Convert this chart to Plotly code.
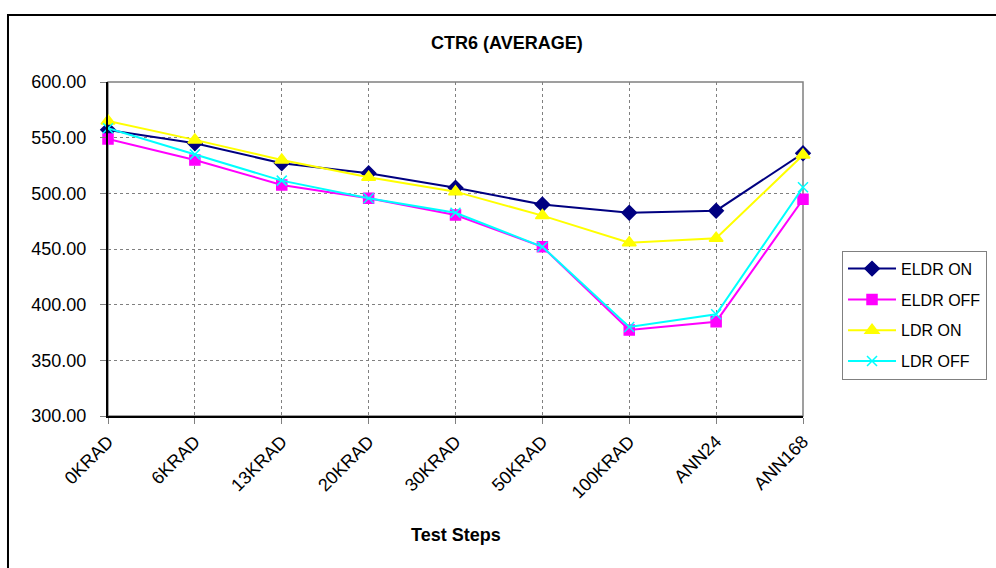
import plotly.graph_objects as go

# Test steps along the x axis
steps = ["0KRAD", "6KRAD", "13KRAD", "20KRAD", "30KRAD", "50KRAD", "100KRAD", "ANN24", "ANN168"]

# Average CTR6 per test step for each bias / dose-rate condition
eldr_on = [557.0, 545.0, 527.0, 518.0, 505.0, 490.0, 482.6, 484.4, 536.0]
eldr_off = [548.8, 530.0, 507.5, 495.5, 480.5, 452.0, 377.2, 384.7, 494.6]
ldr_on = [565.0, 548.0, 530.0, 514.4, 501.5, 480.0, 455.7, 459.6, 534.4]
ldr_off = [558.4, 535.0, 511.4, 495.5, 482.6, 452.0, 380.0, 391.4, 505.4]

y_ticks = [300, 350, 400, 450, 500, 550, 600]

FONT = "Liberation Sans, Arial, sans-serif"

series = [
    ("ELDR ON", eldr_on, "#000080", "diamond", 11),
    ("ELDR OFF", eldr_off, "#FF00FF", "square", 10),
    ("LDR ON", ldr_on, "#FFFF00", "triangle-up", 12),
    ("LDR OFF", ldr_off, "#00FFFF", "x-thin-open", 10),
]

fig = go.Figure()
for name, vals, color, symbol, size in series:
    fig.add_trace(
        go.Scatter(
            x=steps,
            y=vals,
            name=name,
            legendgroup=name,
            mode="lines+markers",
            line=dict(color=color, width=2),
            marker=dict(symbol=symbol, size=size, color=color,
                        line=dict(color=color, width=1.5)),
            cliponaxis=False,
        )
    )

# Chart frame, plot-area border, titles
fig.update_layout(
    width=996,
    height=568,
    margin=dict(l=108, r=193, t=82, b=152, autoexpand=False),
    paper_bgcolor="white",
    plot_bgcolor="white",
    font=dict(family=FONT, color="black"),
    showlegend=True,
    legend=dict(
        xref="container", yref="container",
        x=0.8454, y=0.5586, xanchor="left", yanchor="top",
        font=dict(size=16, family=FONT, color="black"),
        bordercolor="#808080", borderwidth=1,
        bgcolor="white",
        tracegroupgap=7,
        traceorder="grouped",
        itemwidth=48,
    ),
    shapes=[
        dict(type="rect", xref="paper", yref="paper",
             x0=-0.1439, x1=2.0, y0=-1.0, y1=1.2006,
             line=dict(color="black", width=2), layer="below"),
        dict(type="rect", xref="paper", yref="paper",
             x0=0, x1=1, y0=0, y1=1,
             line=dict(color="#808080", width=1.5), layer="below"),
    ],
    annotations=[
        dict(text="<b>CTR6 (AVERAGE)</b>", xref="paper", yref="paper",
             x=0.574, y=1.1168, xanchor="center", yanchor="middle",
             showarrow=False, font=dict(size=18, family=FONT)),
        dict(text="<b>Test Steps</b>", xref="paper", yref="paper",
             x=0.5, y=-0.3563, xanchor="center", yanchor="middle",
             showarrow=False, font=dict(size=18, family=FONT)),
    ],
)

fig.update_xaxes(
    type="category",
    range=[0, len(steps) - 1],
    tickangle=-45,
    tickfont=dict(size=18, family=FONT),
    ticks="outside", ticklen=6, tickcolor="#808080",
    showgrid=True, gridcolor="#808080", griddash="dot", gridwidth=1,
    showline=True, linecolor="black", linewidth=2,
    zeroline=False,
)

fig.update_yaxes(
    range=[300, 600],
    tickvals=y_ticks,
    tickformat=".2f",
    tickfont=dict(size=18, family=FONT),
    ticks="outside", ticklen=6, tickcolor="#808080",
    ticklabelstandoff=10,
    showgrid=True, gridcolor="#808080", griddash="dot", gridwidth=1,
    showline=True, linecolor="black", linewidth=2,
    zeroline=False,
)

fig.write_html("out.html")
